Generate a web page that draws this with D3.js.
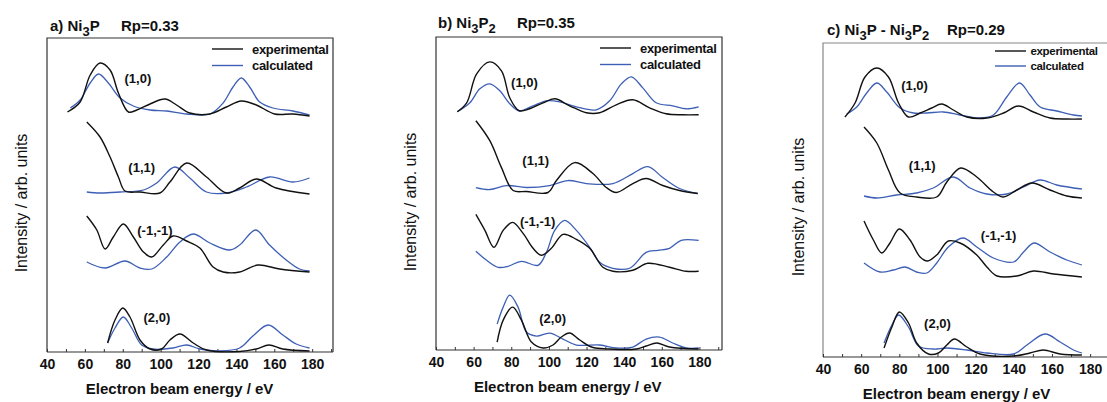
<!DOCTYPE html>
<html>
<head>
<meta charset="utf-8">
<script src="https://cdn.jsdelivr.net/npm/d3@7"></script>
<style>
  body { margin: 0; background: #fff; }
  svg { display: block; font-family: 'Liberation Sans', Arial, sans-serif; }
</style>
</head>
<body>
<svg id="chart"></svg>
<script>
const width = 1107
const height = 402
const blue = '#3d5fb5'

// x axis labels and minor ticks (eV)
const energyTicks = [40, 60, 80, 100, 120, 140, 160, 180]
const minorTicks = [40, 50, 60, 70, 80, 90, 100, 110, 120, 130, 140, 150, 160, 170, 180, 190]
const beams = ['(1,0)', '(1,1)', '(-1,-1)', '(2,0)']

// ---- a) Ni3P : [energy eV, intensity arb. units] ----
const aExp10 = [[50.8,240],[57.5,250],[62.8,277],[68,289],[73.3,282],[77.7,259],[83,240],[87.4,242],[94.4,248],[102.3,253],[108.4,247],[115.4,239],[126,238],[134.7,245],[142.6,251],[150.5,247],[160.2,238],[169.8,238],[178.6,236]]
const aCalc10 = [[52.3,244],[57.5,252],[62.8,269],[67.2,278],[72.4,269],[78.6,254],[85.6,246],[94.4,242],[103.2,241],[113.7,238],[126,238],[133,249],[138.2,265],[142.6,274],[147,265],[152.3,250],[159.3,244],[169.8,241],[178.6,237]]
const aExp11 = [[61,230],[68,215],[73.3,195],[77.7,175],[81.2,161],[89,160],[99.6,159],[104.9,170],[113.7,189],[124.2,175],[134.7,159],[141.7,164],[150.5,173],[161,164],[178.6,158]]
const aCalc11 = [[61,160],[68,159],[78.6,160],[90.9,162],[97.9,169],[107.5,185],[115.4,174],[124.2,160],[134.7,159],[145.3,165],[157.5,175],[169.8,170],[178.6,174]]
const aExpM11 = [[61,136],[66.3,122],[70.7,103],[75,115],[80.3,128],[85.6,115],[90.9,100],[95.3,95],[101.4,107],[106.6,116],[113.7,111],[120.7,104],[127.7,85],[133,80],[141.7,80],[151.4,87],[162.8,83],[178.6,80]]
const aCalcM11 = [[61,90],[70.7,84],[81.2,91],[89,84],[95.3,83],[103.2,95],[110.2,110],[117.2,118],[126,109],[136.5,102],[141.7,107],[150.2,122],[157.5,107],[166.3,92],[173.3,83],[178.6,81]]
const aExp20 = [[72,9],[75.9,32],[80,44],[83.8,35],[89.1,12],[94.4,3],[100.5,3],[104.9,12],[110.2,18],[117.2,9],[124.2,2],[141.7,0.5],[150.5,3],[157.2,7],[164.5,3],[178.6,1]]
const aCalc20 = [[72,9],[75.9,24],[80.3,35],[84.7,24],[90,7],[96.1,3],[106.6,4],[113.7,7],[120.7,3],[131.2,1],[141.7,4],[148.7,16],[156.8,27],[164.5,17],[171.6,8],[178.6,4]]
const aLabelAt = [[88,274],[90,185],[97,122],[98,35]]

// ---- b) Ni3P2 ----
const bExp10 = [[51.3,239],[56.3,248],[61.6,277],[68.6,289],[74.8,280],[79.2,253],[84.2,240],[89.8,242],[96.9,248],[103.1,252],[111,245],[119.9,238],[127,238],[135.8,246],[144.6,251],[153.5,243],[162.3,237],[171.1,236],[179.6,236]]
const bCalc10 = [[51.3,239],[58,248],[63.3,262],[68.6,267],[73.9,260],[79.2,247],[84.2,240],[91.6,245],[98.7,250],[105.7,249],[114.6,244],[125.2,241],[132.3,250],[138.5,267],[143.8,274],[149.9,263],[157,248],[165.8,245],[172.9,242],[179.6,244]]
const bExp11 = [[61.2,230],[68.6,210],[74.8,183],[81,160],[88.1,159],[99.5,158],[104,170],[113.7,188],[123.4,177],[130.5,163],[135.8,158],[144.6,167],[151.7,172],[160.5,165],[169.4,160],[179.1,157]]
const bCalc11 = [[61.2,163],[68.6,161],[77.5,165],[88.1,163],[100.4,165],[110.1,170],[119.9,167],[134,167],[144.6,177],[152.6,184],[160.5,173],[169.4,162],[179.1,157]]
const bExpM11 = [[61.2,136],[66,120],[70.8,103],[75.7,120],[80.7,128],[86.3,117],[91.6,102],[96,95],[101.3,102],[107.5,116],[114.6,111],[121.7,102],[128.7,83],[134,79],[144.6,80],[152.6,87],[164.1,83],[172.9,79],[179.6,79]]
const bCalcM11 = [[61.2,99],[66.9,90],[73,83],[78.3,84],[85.4,89],[94.2,85],[98.7,98],[103.1,120],[108.4,130],[114.6,120],[121.7,103],[127,88],[134,82],[142.9,82],[151.7,98],[157.9,100],[164.1,102],[170.3,110],[179.6,110]]
const bExp20 = [[72.5,8],[75.7,30],[80.7,43],[85.4,30],[90.7,8],[96.9,2],[102.2,5],[106.6,13],[111,17],[116.4,10],[122.6,3],[132.3,1],[146.4,1],[151.7,4],[157.3,7],[164.1,3],[179.6,1]]
const bCalc20 = [[72.5,26],[75.7,43],[79.2,55],[83.6,43],[88.1,18],[93.4,14],[100.4,17],[107.5,11],[114.6,5],[127,5],[135.8,2],[144.6,3],[151.7,11],[158.8,13],[165.8,7],[172.9,2],[179.6,2]]
const bLabelAt = [[87,268],[93,190],[94,129],[102,32]]

// ---- c) Ni3P-Ni3P2 ----
const cExp10 = [[51.5,240],[56.8,254],[62,280],[68.2,289],[74.3,280],[79.6,254],[84.8,240],[90.9,244],[97,249],[102.2,253],[108.3,247],[115.4,240],[125.9,239],[134.6,244],[142.4,251],[150.3,245],[159,239],[167.8,238],[175.7,238]]
const cCalc10 = [[52.4,243],[57.7,250],[62.9,264],[68.2,274],[73.4,265],[80.4,249],[87.4,244],[94.4,244],[103.1,245],[111.8,242],[122.3,239],[129.3,242],[136.3,260],[143,274],[148.5,262],[153.8,250],[162.5,246],[171.3,242],[175.7,241]]
const cExp11 = [[61.5,230],[68.2,214],[74.3,187],[80.4,164],[89.1,160],[99.6,160],[104.9,175],[112.2,189],[120.6,180],[129.3,165],[134.6,160],[141.6,167],[149.5,174],[159,167],[167.8,161],[175.7,159]]
const cCalc11 = [[61.5,161],[68.2,159],[78.6,162],[89.1,164],[97.8,169],[108.3,180],[117.1,169],[125.8,163],[136.3,163],[145.1,170],[153.8,177],[162.5,172],[175.7,168]]
const cExpM11 = [[61.5,136],[66.4,117],[70.8,104],[75.1,114],[80,128],[85.6,117],[90.9,100],[94.8,96],[99.6,102],[105.7,116],[111.8,114],[120.6,102],[125.9,90],[131.2,81],[141.6,81],[150.3,86],[160.9,83],[175.7,80]]
const cCalcM11 = [[61.5,94],[69.9,85],[76.9,87],[83,90],[89.1,85],[94.4,84],[99.6,94],[105.7,110],[113.4,119],[120.6,110],[129.3,99],[139.9,95],[145.1,105],[150.6,114],[159,105],[167.8,97],[175.7,92]]
const cExp20 = [[72,9],[76.1,30],[80,45],[84.8,34],[89.1,14],[95.3,3],[100.5,4],[104.9,12],[108.9,18],[115.4,10],[122.3,3],[139.9,1],[148.5,4],[155.5,7],[164.3,3],[175.7,2]]
const cCalc20 = [[72,14],[76.1,32],[79.6,42],[84.8,30],[90,11],[97.8,8],[104.9,9],[115.4,7],[125.9,4],[139.9,3],[146.9,12],[156.4,23],[164.3,15],[171.3,7],[175.7,4]]
const cLabelAt = [[88,272],[92,192],[132,122],[100,34]]

const panels = [
  { title: [['a) Ni'], ['3', 1], ['P']], rp: 'Rp=0.33', tx: 50, rpx: 121, ty: 31,
    left: 47, right: 333, top: 38, bottom: 352, xmax: 191, frame: '#333',
    legX: 212, legY: 49, legSize: 13, ylabX: 21, ylabY: 203,
    exp: [aExp10, aExp11, aExpM11, aExp20], calc: [aCalc10, aCalc11, aCalcM11, aCalc20], labels: aLabelAt },
  { title: [['b) Ni'], ['3', 1], ['P'], ['2', 1]], rp: 'Rp=0.35', tx: 438, rpx: 517, ty: 28,
    left: 436, right: 722, top: 37, bottom: 350, xmax: 192, frame: '#333',
    legX: 600, legY: 48, legSize: 13, ylabX: 410, ylabY: 202,
    exp: [bExp10, bExp11, bExpM11, bExp20], calc: [bCalc10, bCalc11, bCalcM11, bCalc20], labels: bLabelAt },
  { title: [['c) Ni'], ['3', 1], ['P - Ni'], ['3', 1], ['P'], ['2', 1]], rp: 'Rp=0.29', tx: 827, rpx: 947, ty: 35,
    left: 823, right: 1113, top: 43, bottom: 357, xmax: 192, frame: '#888',
    legX: 995, legY: 51, legSize: 11.5, ylabX: 798, ylabY: 207,
    exp: [cExp10, cExp11, cExpM11, cExp20], calc: [cCalc10, cCalc11, cCalcM11, cCalc20], labels: cLabelAt }
]

const svg = d3.select('#chart').attr('width', width).attr('height', height)
svg.append('rect').attr('width', width).attr('height', height).attr('fill', '#fff')

function drawPanel(p) {
  const x = d3.scaleLinear().domain([40, p.xmax]).range([p.left, p.right])
  const y = d3.scaleLinear().domain([0, 314]).range([p.bottom, p.top])
  const g = svg.append('g')

  // frame
  g.append('path')
    .attr('d', `M${p.left},${p.bottom}V${p.top}H${p.right}V${p.bottom}`)
    .attr('fill', 'none').attr('stroke', p.frame).attr('stroke-width', 1.2)
  g.append('line')
    .attr('x1', p.left).attr('x2', p.right).attr('y1', p.bottom).attr('y2', p.bottom)
    .attr('stroke', '#333').attr('stroke-width', 1.2)

  // ticks
  g.append('g')
    .attr('transform', `translate(0,${p.bottom})`)
    .call(d3.axisBottom(x).tickValues(minorTicks.filter(d => d < p.xmax)).tickSize(-3).tickFormat(''))
    .call(a => a.select('.domain').remove())
    .call(a => a.selectAll('line').attr('stroke', '#333'))
  g.append('g')
    .attr('transform', `translate(0,${p.bottom})`)
    .call(d3.axisBottom(x).tickValues(energyTicks).tickSize(0).tickPadding(7))
    .call(a => a.select('.domain').remove())
    .call(a => a.selectAll('text')
      .attr('fill', '#111').attr('font-size', 14).attr('font-weight', 'bold')
      .attr('font-family', "'Liberation Sans', Arial, sans-serif"))

  g.append('text')
    .attr('x', x(110))
    .attr('y', p.bottom + 42)
    .attr('text-anchor', 'middle')
    .attr('font-size', 15).attr('font-weight', 'bold').attr('fill', '#111')
    .text('Electron beam energy / eV')

  g.append('text')
    .attr('transform', `translate(${p.ylabX + 6},${p.ylabY}) rotate(-90)`)
    .attr('text-anchor', 'middle')
    .attr('font-size', 16).attr('fill', '#111')
    .text('Intensity / arb. units')

  // title
  const t = g.append('text').attr('x', p.tx).attr('y', p.ty)
    .attr('font-size', 15).attr('font-weight', 'bold').attr('fill', '#111')
  p.title.forEach(([s, sub], i) => {
    const prev = i > 0 && p.title[i - 1][1]
    t.append('tspan')
      .attr('dy', sub ? 5 : (prev ? -5 : 0))
      .attr('font-size', sub ? 13 : 15)
      .text(s)
  })
  g.append('text').attr('x', p.rpx).attr('y', p.ty)
    .attr('font-size', 15).attr('font-weight', 'bold').attr('fill', '#111')
    .text(p.rp)

  // curves
  const line = d3.line()
    .x(d => x(d[0])).y(d => y(d[1]))
    .curve(d3.curveCatmullRom.alpha(0.5))
  p.calc.forEach(s => g.append('path').attr('d', line(s))
    .attr('fill', 'none').attr('stroke', blue).attr('stroke-width', 1.3))
  p.exp.forEach(s => g.append('path').attr('d', line(s))
    .attr('fill', 'none').attr('stroke', '#111').attr('stroke-width', 1.4))

  // beam labels
  p.labels.forEach((d, i) => g.append('text')
    .attr('x', x(d[0])).attr('y', y(d[1])).attr('dy', '0.35em')
    .attr('text-anchor', 'middle')
    .attr('font-size', 13).attr('font-weight', 'bold').attr('fill', '#111')
    .text(beams[i]))

  // legend
  const leg = g.append('g').attr('transform', `translate(${p.legX},${p.legY})`)
  const gap = p.legSize + 3.5
  ;[['experimental', '#111'], ['calculated', blue]].forEach(([name, col], i) => {
    leg.append('line').attr('x1', 0).attr('x2', 31)
      .attr('y1', i * gap).attr('y2', i * gap)
      .attr('stroke', col).attr('stroke-width', 1.4)
    leg.append('text').attr('x', 40 * p.legSize / 13).attr('y', i * gap).attr('dy', '0.35em')
      .attr('font-size', p.legSize).attr('font-weight', 'bold').attr('fill', '#111')
      .attr('letter-spacing', -0.3)
      .text(name)
  })
}

panels.forEach(drawPanel)
</script>
</body>
</html>
